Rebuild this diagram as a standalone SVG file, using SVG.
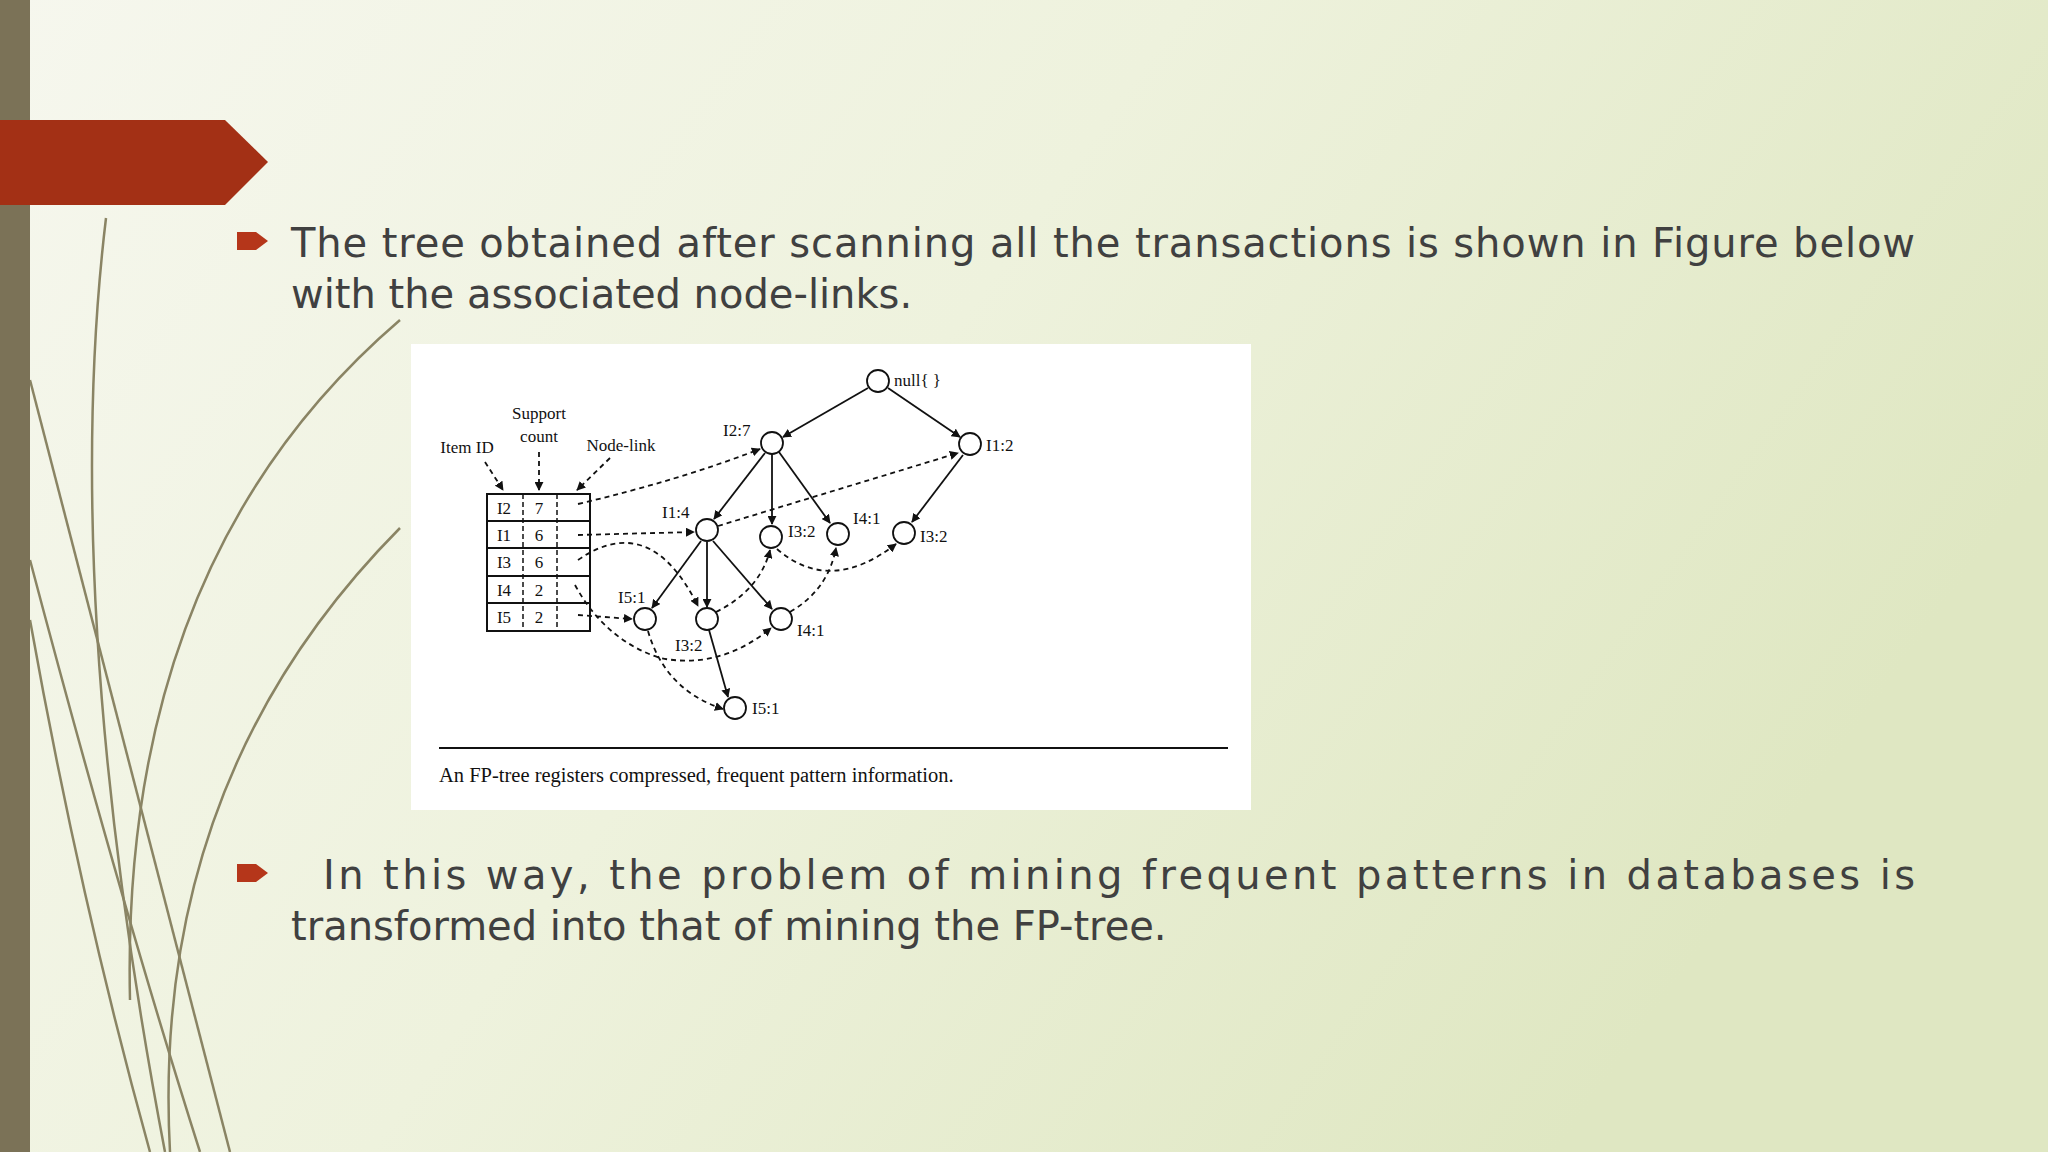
<svg xmlns="http://www.w3.org/2000/svg" width="2048" height="1152" viewBox="0 0 2048 1152">
<defs>
<linearGradient id="bg" x1="0" y1="0" x2="1" y2="0.4">
<stop offset="0" stop-color="#f6f7ee"/><stop offset="0.5" stop-color="#eef2dd"/><stop offset="1" stop-color="#dfe7c2"/>
</linearGradient>
<marker id="ah" viewBox="0 0 10 10" refX="9" refY="5" markerWidth="9" markerHeight="9" markerUnits="userSpaceOnUse" orient="auto"><path d="M0,0 L10,5 L0,10 z" fill="#111"/></marker>
<style>
.body{font-family:"DejaVu Sans","Liberation Sans",sans-serif;font-size:40px;fill:#404040}
.t{font-family:"Liberation Serif",serif;font-size:17px;fill:#111}
.cap{font-family:"Liberation Serif",serif;font-size:20.5px;fill:#111}
.nd{fill:#fff;stroke:#111;stroke-width:1.8}
.e{stroke:#111;stroke-width:1.8;fill:none;marker-end:url(#ah)}
.d{stroke:#111;stroke-width:1.8;fill:none;stroke-dasharray:5,4;marker-end:url(#ah)}
.deco{fill:none;stroke:#8a8464;stroke-width:2.5}
</style>
</defs>
<rect width="2048" height="1152" fill="url(#bg)"/>
<g id="decor">
<path class="deco" d="M30,380 Q140,800 230,1152"/>
<path class="deco" d="M30,560 Q120,900 200,1152"/>
<path class="deco" d="M106,218 Q60,600 165,1152" stroke-width="2"/>
<path class="deco" d="M400,528 Q150,780 170,1152" stroke-width="2"/>
<path class="deco" d="M400,320 Q120,560 130,1000" stroke="#c8c8b0" stroke-width="1.5"/>
<path class="deco" d="M30,620 Q80,900 150,1152" stroke="#c8c8b0" stroke-width="2"/>
<rect x="0" y="0" width="30" height="1152" fill="#7b7257"/>
<path d="M0,120 L225,120 L268,162 L225,205 L0,205 z" fill="#a33015"/>
</g>
<g id="text">
<path d="M237,232 L256,232 L268,241 L256,250 L237,250 z" fill="#b5361a"/>
<text class="body" x="291" y="257" textLength="1624" lengthAdjust="spacing">The tree obtained after scanning all the transactions is shown in Figure below</text>
<text class="body" x="291" y="308">with the associated node-links.</text>
<path d="M237,864 L256,864 L268,873 L256,882 L237,882 z" fill="#b5361a"/>
<text class="body" x="323" y="889" textLength="1592" lengthAdjust="spacing">In this way, the problem of mining frequent patterns in databases is</text>
<text class="body" x="291" y="940">transformed into that of mining the FP-tree.</text>
</g>
<g id="figure">
<rect x="411" y="344" width="840" height="466" fill="#fff"/>
<line x1="439" y1="748" x2="1228" y2="748" stroke="#111" stroke-width="2"/>
<text class="cap" x="439" y="782">An FP-tree registers compressed, frequent pattern information.</text>
</g>
<g id="table">
<rect x="487" y="494" width="103" height="137" fill="#fff" stroke="#111" stroke-width="2"/>
<g stroke="#111" stroke-width="1.8"><line x1="487" y1="521" x2="590" y2="521"/><line x1="487" y1="548" x2="590" y2="548"/><line x1="487" y1="576" x2="590" y2="576"/><line x1="487" y1="603" x2="590" y2="603"/></g>
<g stroke="#111" stroke-width="1.5" stroke-dasharray="5,3"><line x1="523" y1="494" x2="523" y2="631"/><line x1="557" y1="494" x2="557" y2="631"/></g>
<g class="t" text-anchor="middle">
<text x="504" y="514">I2</text><text x="539" y="514">7</text>
<text x="504" y="541">I1</text><text x="539" y="541">6</text>
<text x="504" y="568">I3</text><text x="539" y="568">6</text>
<text x="504" y="596">I4</text><text x="539" y="596">2</text>
<text x="504" y="623">I5</text><text x="539" y="623">2</text>
<text x="467" y="453">Item ID</text>
<text x="539" y="419">Support</text>
<text x="539" y="442">count</text>
<text x="621" y="451">Node-link</text>
</g>
</g>
<g id="connectors">
<path class="e" d="M868,388 L783,437"/>
<path class="e" d="M888,388 L960,437"/>
<path class="e" d="M765,453 L714,519"/>
<path class="e" d="M772,454 L772,524"/>
<path class="e" d="M779,452 L830,523"/>
<path class="e" d="M963,455 L912,522"/>
<path class="e" d="M701,541 L652,608"/>
<path class="e" d="M707,542 L707,607"/>
<path class="e" d="M713,541 L772,609"/>
<path class="e" d="M709,630 L728,697"/>
<path class="d" d="M485,462 L503,490"/>
<path class="d" d="M539,452 L539,490"/>
<path class="d" d="M610,458 L577,490"/>
<path class="d" d="M578,504 Q680,480 760,449"/>
<path class="d" d="M578,535 L694,532"/>
<path class="d" d="M718,526 L958,453"/>
<path class="d" d="M578,560 Q650,510 698,606"/>
<path class="d" d="M716,612 Q760,590 770,550"/>
<path class="d" d="M777,549 Q830,595 896,544"/>
<path class="d" d="M575,585 Q605,640 660,658 Q720,670 771,628"/>
<path class="d" d="M790,612 Q828,590 836,548"/>
<path class="d" d="M578,615 L632,619"/>
<path class="d" d="M648,631 Q665,690 723,709"/>
</g>
<g id="nodes">
<g id="n-null"><circle class="nd" cx="878" cy="381" r="11"/><text class="t" x="894" y="386">null{ }</text></g>
<g id="n-i27"><circle class="nd" cx="772" cy="443" r="11"/><text class="t" x="723" y="436">I2:7</text></g>
<g id="n-i12"><circle class="nd" cx="970" cy="444" r="11"/><text class="t" x="986" y="451">I1:2</text></g>
<g id="n-i14"><circle class="nd" cx="707" cy="530" r="11"/><text class="t" x="662" y="518">I1:4</text></g>
<g id="n-i32a"><circle class="nd" cx="771" cy="537" r="11"/><text class="t" x="788" y="537">I3:2</text></g>
<g id="n-i41a"><circle class="nd" cx="838" cy="534" r="11"/><text class="t" x="853" y="524">I4:1</text></g>
<g id="n-i32b"><circle class="nd" cx="904" cy="533" r="11"/><text class="t" x="920" y="542">I3:2</text></g>
<g id="n-i51a"><circle class="nd" cx="645" cy="619" r="11"/><text class="t" x="618" y="603">I5:1</text></g>
<g id="n-i32c"><circle class="nd" cx="707" cy="619" r="11"/><text class="t" x="675" y="651">I3:2</text></g>
<g id="n-i41b"><circle class="nd" cx="781" cy="619" r="11"/><text class="t" x="797" y="636">I4:1</text></g>
<g id="n-i51b"><circle class="nd" cx="735" cy="708" r="11"/><text class="t" x="752" y="714">I5:1</text></g>
</g>
</svg>
